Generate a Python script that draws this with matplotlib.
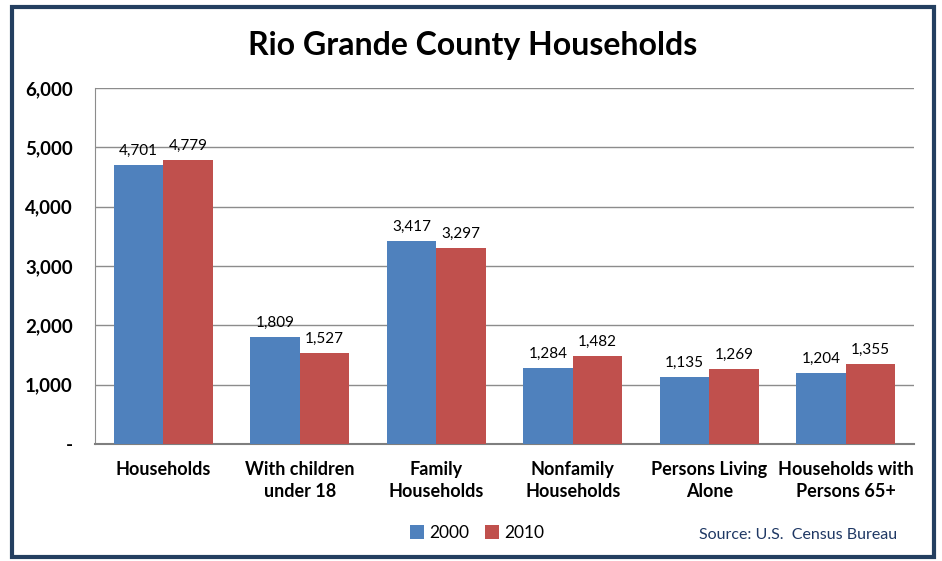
import numpy as np
import matplotlib.pyplot as plt
from matplotlib.patches import Rectangle

categories = ["Households", "With children\nunder 18", "Family\nHouseholds",
              "Nonfamily\nHouseholds", "Persons Living\nAlone", "Households with\nPersons 65+"]
vals_2000 = [4701, 1809, 3417, 1284, 1135, 1204]
vals_2010 = [4779, 1527, 3297, 1482, 1269, 1355]
yticks = [0, 1000, 2000, 3000, 4000, 5000, 6000]
ytick_labels = ["-", "1,000", "2,000", "3,000", "4,000", "5,000", "6,000"]

blue = "#4F81BD"
red = "#C0504D"

plt.rcParams['font.family'] = ['Lato', 'DejaVu Sans']

fig = plt.figure(figsize=(9.42, 5.61), dpi=100)
ax = fig.add_axes([95/942, 1 - 444/561, (914-95)/942, (444-88)/561])

x = np.arange(len(categories))
w = 0.363
ax.bar(x - w/2, vals_2000, w, color=blue, label="2000", zorder=3)
ax.bar(x + w/2, vals_2010, w, color=red, label="2010", zorder=3)

for xi, v in zip(x - w/2, vals_2000):
    ax.text(xi, v + 120, f"{v:,}", ha="center", va="bottom", fontsize=11)
for xi, v in zip(x + w/2, vals_2010):
    ax.text(xi, v + 120, f"{v:,}", ha="center", va="bottom", fontsize=11)

ax.set_xlim(-0.5, len(categories) - 0.5)
ax.set_ylim(0, 6000)
ax.set_yticks(yticks)
ax.set_yticklabels(ytick_labels, fontsize=13.5, fontweight="bold")
ax.set_xticks(x)
ax.set_xticklabels(categories, fontsize=13, fontweight="bold", linespacing=1.35)
ax.tick_params(axis="x", length=0, pad=12)
ax.tick_params(axis="y", length=0, pad=16)
ax.grid(axis="y", color="#8c8c8c", linewidth=1, zorder=0)
for s in ["top", "right"]:
    ax.spines[s].set_visible(False)
ax.spines["left"].set_color("#8c8c8c")
ax.spines["bottom"].set_color("#7f7f7f")
ax.spines["bottom"].set_linewidth(1.5)

fig.text(473/942, 1 - 45/561, "Rio Grande County Households", ha="center", va="center",
         fontsize=23, fontweight="bold")

ax.legend(loc="center", bbox_to_anchor=(477/942, 1 - 533/561), bbox_transform=fig.transFigure,
          ncol=2, frameon=False, fontsize=12.5, handlelength=0.8, handleheight=0.8,
          handletextpad=0.3, columnspacing=0.9)

fig.text(897/942, 1 - 535/561, "Source: U.S.  Census Bureau", ha="right", va="center",
         fontsize=11.5, color="#1F3864")

fig.patches.append(Rectangle((12/942, 1 - 557/561), (934-12)/942, (557-7)/561,
                             transform=fig.transFigure, fill=False,
                             edgecolor="#243F60", linewidth=3))

fig.savefig("out.png", dpi=100)
